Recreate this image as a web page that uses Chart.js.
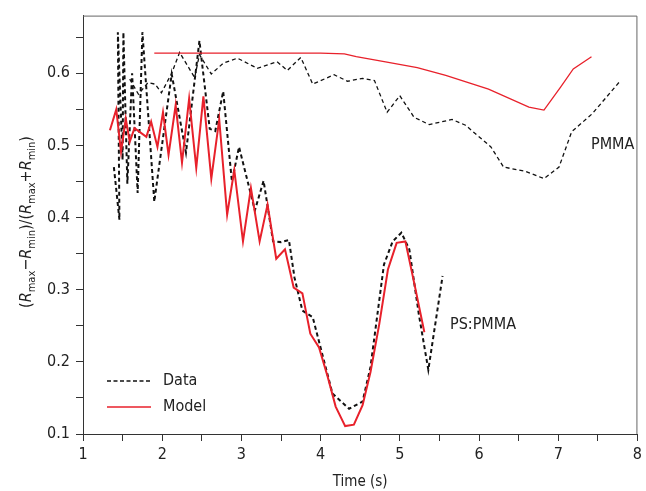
<!DOCTYPE html>
<html>
<head>
<meta charset="utf-8">
<script src="https://cdn.jsdelivr.net/npm/chart.js@4.4.0/dist/chart.umd.min.js"></script>
<style>
  html, body { margin: 0; padding: 0; background: #fff; }
  #wrap { width: 646px; height: 491px; }
</style>
</head>
<body>
<div id="wrap"><canvas id="grafica" width="646" height="491"></canvas></div>
<script>
// Datos
// PS:PMMA - medicion (linea discontinua gruesa)
const psDataTime = [1.39, 1.46, 1.44, 1.50, 1.51, 1.56, 1.62, 1.69, 1.75, 1.90, 2.12, 2.30, 2.47, 2.60, 2.67,
  2.77, 2.88, 2.97, 3.17, 3.28, 3.40, 3.50, 3.60, 3.67, 3.77, 3.90, 4.15, 4.36, 4.53, 4.63, 4.80, 4.91,
  5.02, 5.12, 5.24, 5.36, 5.54];
const psDataValue = [0.470, 0.397, 0.657, 0.480, 0.657, 0.447, 0.600, 0.434, 0.657, 0.422, 0.599, 0.490, 0.645, 0.523, 0.520,
  0.575, 0.450, 0.498, 0.410, 0.451, 0.367, 0.366, 0.369, 0.317, 0.271, 0.262, 0.156, 0.135, 0.145, 0.193, 0.335, 0.367,
  0.379, 0.356, 0.266, 0.189, 0.319];

// PS:PMMA - modelo (rojo grueso)
const psModelTime = [1.34, 1.42, 1.48, 1.54, 1.59, 1.65, 1.80, 1.86, 1.94, 2.01, 2.08, 2.17, 2.25, 2.34, 2.43, 2.52,
  2.62, 2.72, 2.82, 2.91, 3.02, 3.12, 3.23, 3.33, 3.44, 3.55, 3.66, 3.77, 3.87, 3.98, 4.09, 4.19, 4.31, 4.42,
  4.53, 4.63, 4.74, 4.85, 4.96, 5.07, 5.19, 5.31];
const psModelValue = [0.521, 0.550, 0.491, 0.537, 0.505, 0.524, 0.512, 0.533, 0.498, 0.546, 0.487, 0.556, 0.476, 0.565, 0.469, 0.568,
  0.454, 0.536, 0.404, 0.466, 0.367, 0.441, 0.367, 0.418, 0.343, 0.356, 0.303, 0.295, 0.239, 0.220, 0.179, 0.138, 0.111, 0.113,
  0.140, 0.186, 0.252, 0.328, 0.365, 0.367, 0.305, 0.241];

// PMMA - medicion (linea discontinua fina)
const pmmaDataTime = [1.59, 1.70, 1.82, 1.91, 1.99, 2.12, 2.22, 2.41, 2.47, 2.62, 2.77, 2.95, 3.20, 3.45, 3.58, 3.75,
  3.90, 4.17, 4.34, 4.53, 4.68, 4.84, 5.00, 5.18, 5.37, 5.66, 5.83, 6.15, 6.31, 6.59, 6.82, 7.01, 7.17, 7.43, 7.78];
const pmmaDataValue = [0.592, 0.571, 0.587, 0.585, 0.573, 0.600, 0.629, 0.594, 0.626, 0.599, 0.614, 0.621, 0.607, 0.616, 0.604, 0.622,
  0.585, 0.598, 0.589, 0.593, 0.590, 0.546, 0.569, 0.539, 0.529, 0.536, 0.528, 0.498, 0.470, 0.464, 0.454, 0.470, 0.519, 0.544, 0.589];

// PMMA - modelo (rojo fino)
const pmmaModelTime = [1.90, 2.50, 3.00, 3.50, 4.00, 4.30, 4.45, 4.82, 5.22, 5.58, 6.12, 6.63, 6.82, 7.03, 7.19, 7.42];
const pmmaModelValue = [0.628, 0.628, 0.628, 0.628, 0.628, 0.627, 0.623, 0.616, 0.608, 0.597, 0.578, 0.553, 0.549, 0.581, 0.606, 0.623];

// Marcas de los ejes
const xTickValues = [1, 1.5, 2, 2.5, 3, 3.5, 4, 4.5, 5, 5.5, 6, 6.5, 7, 7.5, 8];
const xTickLabels = ['1', '2', '3', '4', '5', '6', '7', '8'];
const yTickValues = [0.1, 0.15, 0.2, 0.25, 0.3, 0.35, 0.4, 0.45, 0.5, 0.55, 0.6, 0.65];
const yTickLabels = ['0.1', '0.2', '0.3', '0.4', '0.5', '0.6'];

const FONT = "'Liberation Sans Narrow', 'DejaVu Sans Condensed', 'Liberation Sans', sans-serif";
const RED = '#e8212b';

function pares(xs, ys) {
  return xs.map((x, i) => ({ x: x, y: ys[i] }));
}

function etiquetaX(v) {
  const s = String(v);
  return xTickLabels.includes(s) ? s : '';
}
function etiquetaY(v) {
  const s = (Math.round(v * 100) / 100).toString();
  return yTickLabels.includes(s) ? s : '';
}

// Marco, titulo del eje Y, leyenda y rotulos
const extras = {
  id: 'extras',
  afterDraw(chart) {
    const ctx = chart.ctx;
    const a = chart.chartArea;
    ctx.save();
    ctx.strokeStyle = '#666';
    ctx.lineWidth = 1;
    ctx.beginPath();
    ctx.moveTo(a.left, a.top + 0.5);
    ctx.lineTo(a.right - 0.5, a.top + 0.5);
    ctx.lineTo(a.right - 0.5, a.bottom);
    ctx.stroke();

    // titulo eje Y con subindices
    const piezas = [
      ['(', 'n'], ['R', 'i'], ['max', 's'], ['\u2212', 'n'], ['R', 'i'], ['min', 's'],
      [')/(', 'n'], ['R', 'i'], ['max', 's'], ['+', 'n'], ['R', 'i'], ['min', 's'], [')', 'n']
    ];
    const fuente = t => t === 'i' ? 'italic 16px ' + FONT : (t === 's' ? '11px ' + FONT : '16px ' + FONT);
    let total = 0;
    piezas.forEach(p => { ctx.font = fuente(p[1]); total += ctx.measureText(p[0]).width; });
    ctx.translate(27, 222);
    ctx.rotate(-Math.PI / 2);
    ctx.fillStyle = '#222';
    ctx.textBaseline = 'middle';
    let x = -total / 2;
    piezas.forEach(p => {
      ctx.font = fuente(p[1]);
      ctx.fillText(p[0], x, p[1] === 's' ? 5 : 0);
      x += ctx.measureText(p[0]).width;
    });
    ctx.restore();

    // leyenda
    ctx.save();
    ctx.lineWidth = 1.5;
    ctx.strokeStyle = '#111';
    ctx.setLineDash([4, 2.5]);
    ctx.beginPath(); ctx.moveTo(107, 381); ctx.lineTo(151, 381); ctx.stroke();
    ctx.setLineDash([]);
    ctx.strokeStyle = RED;
    ctx.beginPath(); ctx.moveTo(107, 407); ctx.lineTo(151, 407); ctx.stroke();
    ctx.fillStyle = '#222';
    ctx.font = '16px ' + FONT;
    ctx.textBaseline = 'middle';
    ctx.fillText('Data', 163, 381);
    ctx.fillText('Model', 163, 407);
    ctx.fillText('PMMA', 591, 145);
    ctx.fillText('PS:PMMA', 450, 325);
    ctx.restore();
  }
};

new Chart(document.getElementById('grafica'), {
  type: 'scatter',
  data: {
    datasets: [
      {
        label: 'PMMA Model',
        data: pares(pmmaModelTime, pmmaModelValue),
        showLine: true, borderColor: RED, borderWidth: 1.3, pointRadius: 0, tension: 0
      },
      {
        label: 'PMMA Data',
        data: pares(pmmaDataTime, pmmaDataValue),
        showLine: true, borderColor: '#111', borderWidth: 1.3, borderDash: [4, 3], pointRadius: 0, tension: 0
      },
      {
        label: 'PS:PMMA Model',
        data: pares(psModelTime, psModelValue),
        showLine: true, borderColor: RED, borderWidth: 2, pointRadius: 0, tension: 0
      },
      {
        label: 'PS:PMMA Data',
        data: pares(psDataTime, psDataValue),
        showLine: true, borderColor: '#111', borderWidth: 2, borderDash: [4, 3], pointRadius: 0, tension: 0
      }
    ]
  },
  options: {
    responsive: false,
    animation: false,
    devicePixelRatio: 1,
    layout: { padding: { top: 13, right: 7, left: 0, bottom: 0 } },
    plugins: { legend: { display: false }, tooltip: { enabled: false } },
    scales: {
      x: {
        type: 'linear', min: 1, max: 8,
        afterBuildTicks: s => { s.ticks = xTickValues.map(v => ({ value: v })); },
        afterFit: s => { s.height = 57; },
        ticks: { callback: etiquetaX, autoSkip: false, maxRotation: 0, color: '#222', padding: 4,
                 font: { family: FONT, size: 16 } },
        grid: { drawOnChartArea: false, drawTicks: true, tickLength: 7, color: '#333' },
        border: { display: true, color: '#333', width: 1 },
        title: { display: true, text: 'Time (s)', color: '#222', padding: { top: 2, bottom: 0 },
                 font: { family: FONT, size: 15 } }
      },
      y: {
        type: 'linear', min: 0.1, max: 0.68,
        afterBuildTicks: s => { s.ticks = yTickValues.map(v => ({ value: v })); },
        afterFit: s => { s.width = 83; },
        ticks: { callback: etiquetaY, autoSkip: false, color: '#222', padding: 6,
                 font: { family: FONT, size: 16 } },
        grid: { drawOnChartArea: false, drawTicks: true, tickLength: 7, color: '#333' },
        border: { display: true, color: '#333', width: 1 }
      }
    }
  },
  plugins: [extras]
});
</script>
</body>
</html>
